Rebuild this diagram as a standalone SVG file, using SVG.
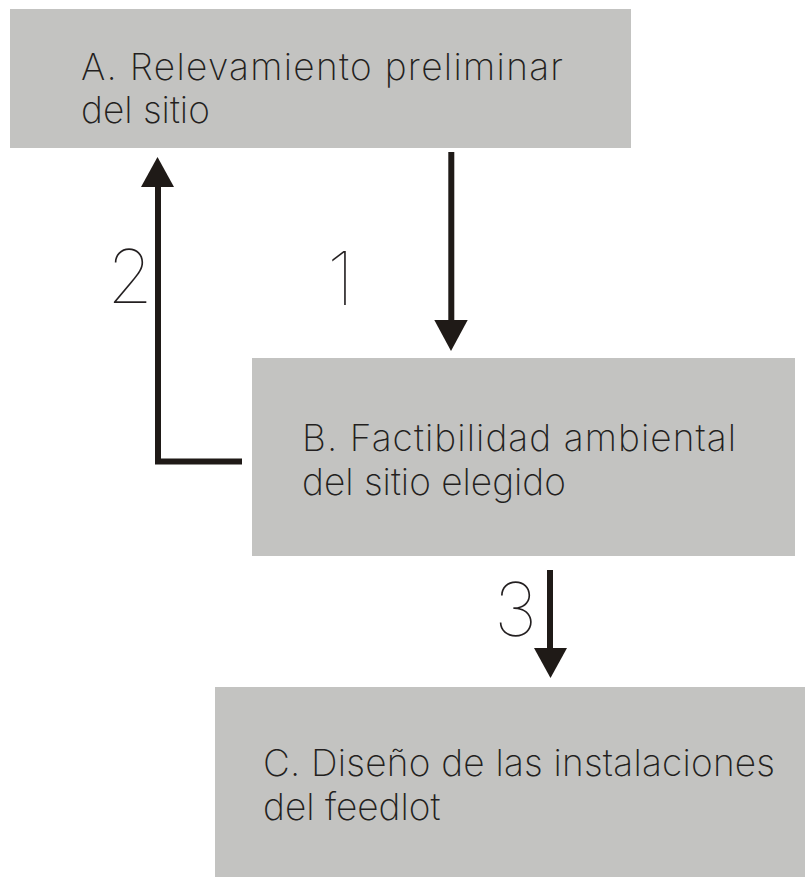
<svg xmlns="http://www.w3.org/2000/svg" width="805" height="877" viewBox="0 0 805 877">
  <style>
    .box { fill: #c3c3c1; }
    .lbl { font-family: Inter, "Open Sans", "Liberation Sans", sans-serif; font-weight: 200; font-size: 37px; fill: #231f20; }
    .num { font-family: Inter, "Open Sans", "Liberation Sans", sans-serif; font-weight: 100; font-size: 74px; fill: #231f20; }
    .line { stroke: #1f1a17; stroke-width: 6; fill: none; }
    .head { fill: #1f1a17; }
  </style>
  <rect width="805" height="877" fill="#ffffff"/>
  <g id="node-a">
    <rect class="box" x="10" y="9" width="621" height="139"/>
    <text class="lbl" x="81" y="80" textLength="482" lengthAdjust="spacing">A. Relevamiento preliminar</text>
    <text class="lbl" x="81" y="123">del sitio</text>
  </g>
  <g id="node-b">
    <rect class="box" x="252" y="358" width="543" height="198"/>
    <text class="lbl" x="302" y="451" textLength="434" lengthAdjust="spacing">B. Factibilidad ambiental</text>
    <text class="lbl" x="302" y="495">del sitio elegido</text>
  </g>
  <g id="node-c">
    <rect class="box" x="215" y="687" width="590" height="190"/>
    <text class="lbl" x="263" y="776" textLength="512" lengthAdjust="spacing">C. Diseño de las instalaciones</text>
    <text class="lbl" x="263" y="820">del feedlot</text>
  </g>
  <g id="connectors">
    <g id="edge-1">
      <line class="line" x1="451.3" y1="152" x2="451.3" y2="322"/>
      <polygon class="head" points="434.3,320 467.7,320 451,351"/>
      <text class="num" x="327" y="305">1</text>
    </g>
    <g id="edge-2">
      <polyline class="line" points="242,461.5 158,461.5 158,185"/>
      <polygon class="head" points="141,187 174,187 157.5,157"/>
      <text class="num" x="107" y="303">2</text>
    </g>
    <g id="edge-3">
      <line class="line" x1="550" y1="570" x2="550" y2="650"/>
      <polygon class="head" points="534,648 567,648 550.5,678"/>
      <text class="num" x="494" y="636">3</text>
    </g>
  </g>
</svg>
